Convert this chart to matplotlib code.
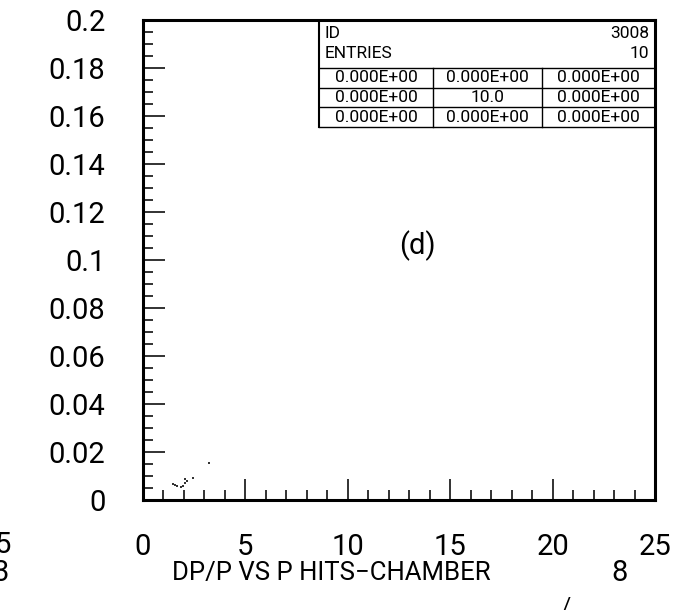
import matplotlib.pyplot as plt
from matplotlib.ticker import MultipleLocator

plt.rcParams['font.family'] = ['Roboto', 'DejaVu Sans']

# hits in the corner (P, DP/P)
p_vals = [3.24, 2.43, 2.16, 2.05, 2.05, 1.48, 1.67, 1.84, 1.56, 1.95]
dpp_vals = [0.0153, 0.0093, 0.0080, 0.0086, 0.0072, 0.0067, 0.0058, 0.0053, 0.0063, 0.0058]

hist_id = '3008'
entries = '10'
stat_rows = [['0.000E+00', '0.000E+00', '0.000E+00'],
             ['0.000E+00', '10.0', '0.000E+00'],
             ['0.000E+00', '0.000E+00', '0.000E+00']]

yticks = [0, 0.02, 0.04, 0.06, 0.08, 0.1, 0.12, 0.14, 0.16, 0.18, 0.2]
xticks = [0, 5, 10, 15, 20, 25]
title = 'DP/P VS P HITS\u2212CHAMBER'
panel = '(d)'

W, H = 688, 610
fig = plt.figure(figsize=(W / 100, H / 100), dpi=100)
ax = fig.add_axes([143 / W, 1 - 500 / H, 512 / W, 480 / H])

ax.scatter(p_vals, dpp_vals, s=2, marker='s', color='#333333', linewidths=0)

ax.set_xlim(0, 25)
ax.set_ylim(0, 0.2)
ax.set_xticks(xticks)
ax.set_xticklabels([str(v) for v in xticks])
ax.set_yticks(yticks)
ax.set_yticklabels(['%g' % v for v in yticks])
ax.xaxis.set_minor_locator(MultipleLocator(1))
ax.yaxis.set_minor_locator(MultipleLocator(0.005))

ax.tick_params(which='both', direction='in', top=False, right=False, width=1.3, color='#222222')
ax.tick_params(axis='y', which='major', length=16, pad=27, labelsize=21)
ax.tick_params(axis='y', which='minor', length=7.5)
ax.tick_params(axis='x', which='major', length=15, pad=24, labelsize=21)
ax.tick_params(axis='x', which='minor', length=7.5)
for s in ax.spines.values():
    s.set_linewidth(2.2)

# stats box, in axes fraction
bx0, bx1 = (319 - 143) / 512, 1.0
cx1, cx2 = (433 - 143) / 512, (542 - 143) / 512
ry = [(500 - y) / 480 for y in (20, 68, 88, 107, 127)]
ax.plot([bx0, bx0], [ry[0], ry[4]], transform=ax.transAxes, color='black', lw=1.5)
for r in ry[1:]:
    ax.plot([bx0, bx1], [r, r], transform=ax.transAxes, color='black', lw=1.0)
for cx in (cx1, cx2):
    ax.plot([cx, cx], [ry[1], ry[4]], transform=ax.transAxes, color='black', lw=1.0)
tx = dict(transform=ax.transAxes, fontsize=12.5, va='center')
pad = 6 / 512
ax.text(bx0 + pad, (500 - 33) / 480, 'ID', ha='left', **tx)
ax.text(bx1 - pad, (500 - 33) / 480, hist_id, ha='right', **tx)
ax.text(bx0 + pad, (500 - 53) / 480, 'ENTRIES', ha='left', **tx)
ax.text(bx1 - pad, (500 - 53) / 480, entries, ha='right', **tx)
cols = [(bx0 + cx1) / 2, (cx1 + cx2) / 2, (cx2 + bx1) / 2]
for i, row in enumerate(stat_rows):
    yc = (ry[i + 1] + ry[i + 2]) / 2
    for j, v in enumerate(row):
        ax.text(cols[j], yc, v, ha='center', **tx)

ax.text(13.4, 0.106, panel, fontsize=21, ha='center', va='center')

fig.text(331 / W, 1 - 573 / H, title, fontsize=18.5, ha='center', va='center')
fig.text(620 / W, 1 - 573 / H, '8', fontsize=21, ha='center', va='center')
# pieces of the neighbouring panels
fig.text(11 / W, 1 - 545 / H, '5', fontsize=21, ha='right', va='center')
fig.text(9 / W, 1 - 573 / H, '3', fontsize=21, ha='right', va='center')
fig.text(566 / W, 1 - 597 / H, '/', fontsize=16, ha='center', va='top')

fig.savefig('out.png', dpi=100)
